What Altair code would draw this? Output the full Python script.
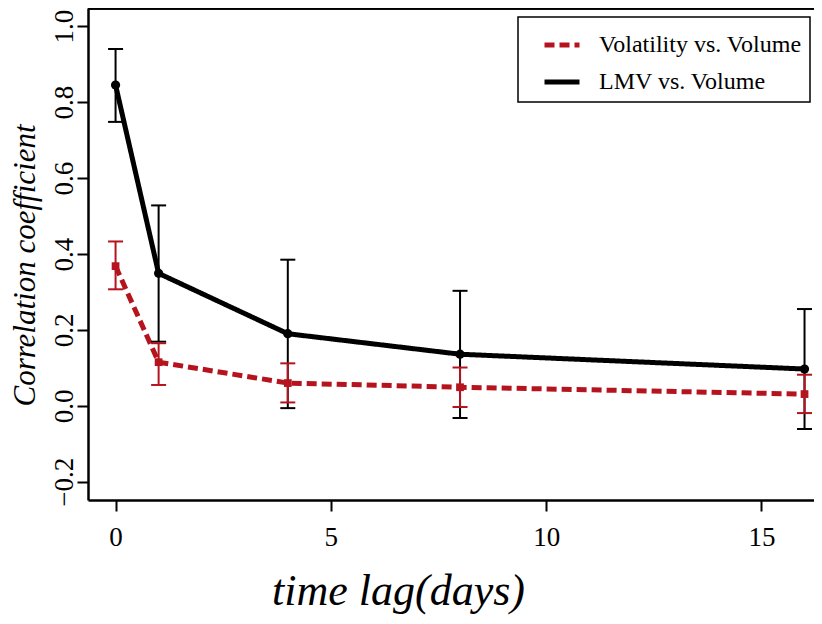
import altair as alt
import pandas as pd

# ---- data ----
lags = [0, 1, 4, 8, 16]
lmv_r = [0.845, 0.349, 0.190, 0.136, 0.097]
lmv_lo = [0.748, 0.169, -0.006, -0.032, -0.061]
lmv_hi = [0.940, 0.528, 0.385, 0.303, 0.255]
vol_r = [0.368, 0.115, 0.060, 0.049, 0.031]
vol_lo = [0.307, 0.055, 0.009, -0.003, -0.019]
vol_hi = [0.433, 0.165, 0.112, 0.101, 0.082]
series = ["Volatility vs. Volume", "LMV vs. Volume"]
colors = ["#B5141E", "#000000"]
dashes = [[10, 5], [1, 0]]
x_ticks = [0, 5, 10, 15]
y_ticks = [-0.2, 0.0, 0.2, 0.4, 0.6, 0.8, 1.0]

W, H = 726, 492
FONT = "Liberation Serif"

rows = []
for s, r, lo, hi in [(series[0], vol_r, vol_lo, vol_hi), (series[1], lmv_r, lmv_lo, lmv_hi)]:
    for i, x in enumerate(lags):
        rows.append({"lag": x, "r": r[i], "lo": lo[i], "hi": hi[i], "series": s})
df = pd.DataFrame(rows)

caps_rows = []
for _, row in df.iterrows():
    caps_rows.append({"lag": row["lag"], "v": row["lo"], "series": row["series"]})
    caps_rows.append({"lag": row["lag"], "v": row["hi"], "series": row["series"]})
caps = pd.DataFrame(caps_rows)

xscale = alt.Scale(domain=[-0.64, 16.22], nice=False, zero=False)
yscale = alt.Scale(domain=[-0.248, 1.048], nice=False, zero=False)

xaxis = alt.Axis(values=x_ticks, format="d", title="time lag(days)", tickSize=11,
                 labelPadding=13, labelFont=FONT, labelFontSize=27, labelColor="black",
                 titleFont=FONT, titleFontSize=44, titleFontStyle="italic",
                 titleFontWeight="normal", titleX=310, titleY=104,
                 titleBaseline="alphabetic", titleAlign="center")
yaxis = alt.Axis(values=y_ticks, format=".1f", title="Correlation coefficient",
                 tickSize=11, labelPadding=5, labelAngle=270, labelAlign="center",
                 labelBaseline="alphabetic", labelFont=FONT, labelFontSize=27,
                 labelColor="black", titleFont=FONT, titleFontSize=31,
                 titleFontStyle="italic", titleFontWeight="normal", titleAngle=270,
                 titleX=-54, titleY=257, titleBaseline="alphabetic", titleAlign="center")

x_enc = alt.X("lag:Q", scale=xscale, axis=xaxis)

layers = []
# frame top border
layers.append(alt.Chart(df).mark_rule(color="black", strokeWidth=2.5).encode(
    x=alt.value(0), x2=alt.value(W), y=alt.value(0)))

for s, c, shape, psize in [(series[1], colors[1], "circle", 80), (series[0], colors[0], "square", 60)]:
    sub = df[df["series"] == s]
    csub = caps[caps["series"] == s]
    layers.append(alt.Chart(sub).mark_rule(color=c, strokeWidth=2).encode(
        x=x_enc, y=alt.Y("lo:Q", scale=yscale, axis=yaxis), y2="hi:Q"))
    layers.append(alt.Chart(csub).mark_tick(color=c, orient="horizontal", size=15, thickness=2,
                                            opacity=1).encode(
        x=x_enc, y=alt.Y("v:Q", scale=yscale, axis=yaxis)))

line = alt.Chart(df).mark_line(strokeWidth=5, strokeJoin="round").encode(
    x=x_enc,
    y=alt.Y("r:Q", scale=yscale, axis=yaxis),
    color=alt.Color("series:N", scale=alt.Scale(domain=series, range=colors),
                    legend=alt.Legend(title=None)),
    strokeDash=alt.StrokeDash("series:N", scale=alt.Scale(domain=series, range=dashes),
                              legend=alt.Legend(title=None)),
    order=alt.Order("lag:Q"),
)
layers.insert(1, line)

for s, c, shape, psize in [(series[1], colors[1], "circle", 85), (series[0], colors[0], "square", 60)]:
    sub = df[df["series"] == s]
    layers.append(alt.Chart(sub).mark_point(color=c, fill=c, filled=True, shape=shape,
                                            size=psize, opacity=1).encode(
        x=x_enc, y=alt.Y("r:Q", scale=yscale, axis=yaxis)))

chart = alt.layer(*layers).properties(
    width=W, height=H,
    autosize=alt.AutoSizeParams(type="none"),
    padding={"left": 80, "top": 0, "right": 0, "bottom": 116},
).configure_view(stroke=None).configure_axis(
    grid=False, domainColor="black", domainWidth=2.5, tickColor="black", tickWidth=2,
    labelFont=FONT, labelFontSize=27, labelColor="black", titleFont=FONT,
    titleColor="black",
).configure_legend(
    orient="none", legendX=430, legendY=9, strokeColor="black", strokeWidth=1.5,
    fillColor="white", padding=8, symbolType="stroke", symbolSize=1225,
    symbolStrokeWidth=5, symbolOffset=16, labelOffset=17, rowPadding=5,
    labelFont=FONT, labelFontSize=24, labelColor="black", labelLimit=400,
)

chart.save("out.html", embed_options={"renderer": "svg", "actions": False})
